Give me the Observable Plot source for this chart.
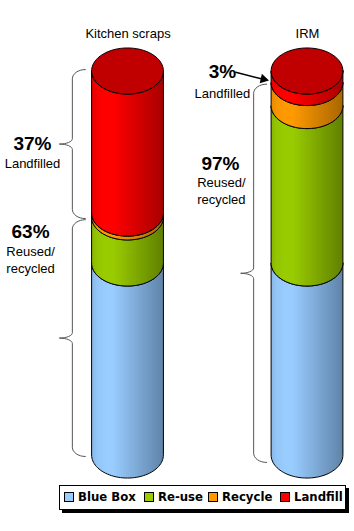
<!DOCTYPE html>
<html>
<head>
<meta charset="utf-8">
<script src="https://cdn.jsdelivr.net/npm/d3@7"></script>
<script src="https://cdn.jsdelivr.net/npm/@observablehq/plot@0.6"></script>
<style>
html,body{margin:0;padding:0;background:#fff;}
svg{display:block;}
#legend{position:absolute;left:59px;top:485px;width:287px;height:25px;box-sizing:border-box;border:1px solid #000;background:#fff;box-shadow:3px 3px 0 #000;font:bold 11.7px "DejaVu Sans",sans-serif;color:#000;white-space:nowrap;}
#legend span{position:absolute;top:4px;line-height:14px;}
#legend i{position:absolute;top:6px;width:8px;height:8px;border:1px solid #000;box-sizing:content-box;}
</style>
</head>
<body>
<div id="chart"></div>
<div id="legend"></div>
<script>
const categories = ["Kitchen scraps", "IRM"];
const series = ["Blue Box", "Re-use", "Recycle", "Landfill"];
const kitchenValues = [50, 12, 1, 37];
const irmValues = [50, 41, 6, 3];
const colors = ["#99ccff", "#99cc00", "#ff9900", "#ff0000"];
const darkColors = ["#5f83a8", "#608000", "#a86600", "#a80000"];
const capColor = "#c00000";
const legendLeft = [4, 84, 148, 220];
const legendText = [18, 98, 162, 234];

const columns = [kitchenValues, irmValues];
const radius = 0.2;          // half width of a cylinder, x units
const depth = 6;             // half height of an ellipse, y units
const thetas = d3.range(0, 49).map(i => i / 48 * Math.PI);

const segments = [];
columns.forEach((vals, col) => {
  let base = 0;
  vals.forEach((v, s) => {
    segments.push({col, s, bottom: base, top: base + v});
    base += v;
  });
});
const grads = () => {
  const svg = d3.create("svg:defs");
  series.forEach((name, s) => {
    const g = svg.append("linearGradient").attr("id", "grad" + s);
    const c = d3.interpolateRgb(colors[s], darkColors[s]);
    [[0, c(0.3)], [0.08, c(0.08)], [0.2, c(0)], [0.3, c(0)], [1, c(1)]].forEach(([o, col]) =>
      g.append("stop").attr("offset", o).attr("stop-color", col));
  });
  return svg.node();
};

const sideMarks = segments.map(seg => Plot.areaY(thetas, {
  x: t => seg.col + radius * Math.cos(t),
  y1: t => seg.bottom - depth * Math.sin(t),
  y2: t => seg.top - depth * Math.sin(t),
  fill: `url(#grad${seg.s})`,
  stroke: "#000",
  strokeWidth: 1
}));

const capMarks = columns.map((_, col) => Plot.areaY(thetas, {
  x: t => col + radius * Math.cos(t),
  y1: t => 100 - depth * Math.sin(t),
  y2: t => 100 + depth * Math.sin(t),
  fill: capColor,
  stroke: "#000",
  strokeWidth: 1
}));

// [spine position, upper level, lower level]
const braces = [
  [-0.31, 100.5, 61.7],
  [-0.31, 61.4, -0.25],
  [0.700, 96.7, -1.8]
];
const bracePts = [];
braces.forEach(([sx, top, bot], id) => {
  const mid = (top + bot) / 2, w = 0.0724, q = 2.4, c = 1.4;
  const add = (x, y) => bracePts.push({id, x, y});
  const steps = d3.range(0, 9).map(i => i / 8 * Math.PI / 2);
  steps.forEach(a => add(sx + w * (1 - Math.sin(a)), top - q * (1 - Math.cos(a))));
  steps.forEach(a => add(sx - w * (1 - Math.cos(a)), mid + c * (1 - Math.sin(a))));
  steps.slice().reverse().forEach(a => add(sx - w * (1 - Math.cos(a)), mid - c * (1 - Math.sin(a))));
  steps.slice().reverse().forEach(a => add(sx + w * (1 - Math.sin(a)), bot + q * (1 - Math.cos(a))));
});

const bigLabels = [
  {x: -0.532, y: 81.2, t: "37%"},
  {x: -0.543, y: 58.1, t: "63%"},
  {x: 0.526, y: 99.8, t: "3%"},
  {x: 0.515, y: 76.0, t: "97%"}
];
const smallLabels = [
  {x: -0.532, y: 76.0, t: "Landfilled"},
  {x: -0.543, y: 53.1, t: "Reused/"},
  {x: -0.543, y: 48.5, t: "recycled"},
  {x: 0.526, y: 94.3, t: "Landfilled"},
  {x: 0.520, y: 71.1, t: "Reused/"},
  {x: 0.520, y: 66.6, t: "recycled"}
];

const font = '"Liberation Sans", Arial, sans-serif';
const plot = Plot.plot({
  width: 354,
  height: 485,
  marginTop: 0, marginBottom: 0, marginLeft: 0, marginRight: 0,
  x: {axis: null, domain: [0, 1], range: [127.5, 307]},
  y: {axis: null, domain: [0, 100], range: [455, 71]},
  marks: [
    grads,
    ...sideMarks,
    ...capMarks,
    Plot.line(bracePts, {x: "x", y: "y", z: "id", stroke: "#555", strokeWidth: 1}),
    Plot.text(categories, {x: (d, i) => i, y: 109.75, text: d => d, fontFamily: font, fontSize: 13, fill: "#000"}),
    Plot.text(bigLabels, {x: "x", y: "y", text: "t", fontFamily: font, fontSize: 19, fontWeight: "bold", fill: "#000"}),
    Plot.text(smallLabels, {x: "x", y: "y", text: "t", fontFamily: font, fontSize: 13, fill: "#000"}),
    Plot.line([{x: 0.60, y: 99.8}, {x: 0.76, y: 97.9}], {x: "x", y: "y", stroke: "#000", strokeWidth: 1.5}),
    Plot.dot([{x: 0.755, y: 98.0}], {x: "x", y: "y", symbol: "triangle", r: 3.6, rotate: 103, fill: "#000", stroke: "none"})
  ]
});
document.getElementById("chart").appendChild(plot);

const legend = document.getElementById("legend");
series.forEach((name, s) => {
  const sw = document.createElement("i");
  sw.style.left = legendLeft[s] + "px";
  sw.style.background = colors[s];
  legend.appendChild(sw);
  const t = document.createElement("span");
  t.style.left = legendText[s] + "px";
  t.textContent = name;
  legend.appendChild(t);
});
</script>
</body>
</html>
